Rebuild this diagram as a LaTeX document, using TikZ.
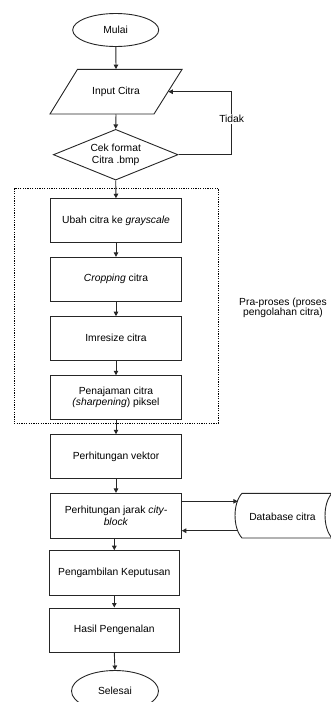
\documentclass[tikz,border=0pt]{standalone}
\usepackage{fontspec}
\setmainfont{Liberation Sans}
\usetikzlibrary{shapes.geometric,arrows.meta}
\begin{document}
\begin{tikzpicture}[x=1pt,y=-1pt,
  every node/.style={font=\fontsize{10.3}{11.3}\selectfont, inner sep=0pt},
  ln/.style={line width=0.9pt, draw=black!85},
  proc/.style={ln, draw, rectangle, minimum width=130.6pt, minimum height=44pt, align=center},
  term/.style={ln, draw, ellipse, minimum width=86pt, minimum height=33pt},
  arr/.style={ln, -{Triangle[length=4.5pt,width=4.5pt]}}]
\useasboundingbox (0,0) rectangle (331,702);
% terminals
\node[term] (start) at (115.7,30) {Mulai};
% input parallelogram
\draw[ln] (77.5,69.3) -- (182.1,69.3) -- (154,114) -- (50,114) -- cycle;
\node[minimum width=104pt, minimum height=44.7pt] (inp) at (116,91.7) {Input Citra};
% decision
\node[ln, draw, diamond, aspect=2.46, minimum width=124.7pt, minimum height=50.7pt, align=center] (dia) at (115.7,154.7) {Cek format\\Citra .bmp};
% pre-processing group
\draw[line width=1pt, dash pattern=on 1.3pt off 1.1pt] (14,188.3) rectangle (218.3,423.3);
\node[align=center, font=\fontsize{10.3}{10.3}\selectfont] (grp) at (283,308) {Pra-proses (proses\\pengolahan citra)};
% process boxes
\node[proc] (b1) at (116,220.7) {Ubah citra ke \textit{grayscale}};
\node[proc] (b2) at (116,279.3) {\textit{Cropping} citra};
\node[proc, minimum height=43.3pt] (b3) at (116,338.3) {Imresize citra};
\node[proc, minimum height=43.6pt] (b4) at (116,397.5) {Penajaman citra\\\textit{(sharpening}) piksel};
\node[proc] (b5) at (116,456.7) {Perhitungan vektor};
\node[proc, minimum height=44.7pt] (b6) at (116,515.7) {Perhitungan jarak \textit{city-}\\\textit{block}};
\node[proc, minimum width=130pt, minimum height=44.7pt] (b7) at (114.3,573) {Pengambilan Keputusan};
\node[proc, minimum width=130pt, minimum height=44.7pt] (b8) at (114.3,630.3) {Hasil Pengenalan};
\node[term, minimum width=87pt, minimum height=41pt] (end) at (115,691) {Selesai};
% database (stored data shape)
\draw[ln] (242,493.3) -- (332,493.3)
  .. controls (322.7,503) and (322.7,528) .. (332,538)
  -- (242,538)
  .. controls (232.7,528) and (232.7,503) .. (242,493.3) -- cycle;
\node[minimum width=80pt, minimum height=44.7pt] (db) at (282.5,516.5) {Database citra};
\coordinate (dbin) at (237.8,501.3);
\coordinate (dbout) at (238.3,530.7);
% loop coordinates
\coordinate (loopc) at (231.7,91.7);
\coordinate (inpr) at (168.3,91.7);
% connectors
\draw[arr] (start) -- (inp.north);
\draw[arr] (inp.south) -- (dia.north);
\draw[ln] (dia.east) -| (loopc);
\draw[arr] (loopc) -- (inpr);
\node[fill=white, inner sep=1pt] (tidak) at (231.7,119) {Tidak};
\draw[arr] (dia.south) -- (b1.north);
\draw[arr] (b1) -- (b2);
\draw[arr] (b2) -- (b3);
\draw[arr] (b3) -- (b4);
\draw[arr] (b4) -- (b5);
\draw[arr] (b5) -- (b6);
\draw[arr] (b6.east |- dbin) -- (dbin);
\draw[arr] (dbout) -- (b6.east |- dbout);
\draw[arr] (b7.north |- b6.south) -- (b7.north);
\draw[arr] (b7) -- (b8);
\draw[arr] (b8.south) -- (end.north);
\end{tikzpicture}
\end{document}
